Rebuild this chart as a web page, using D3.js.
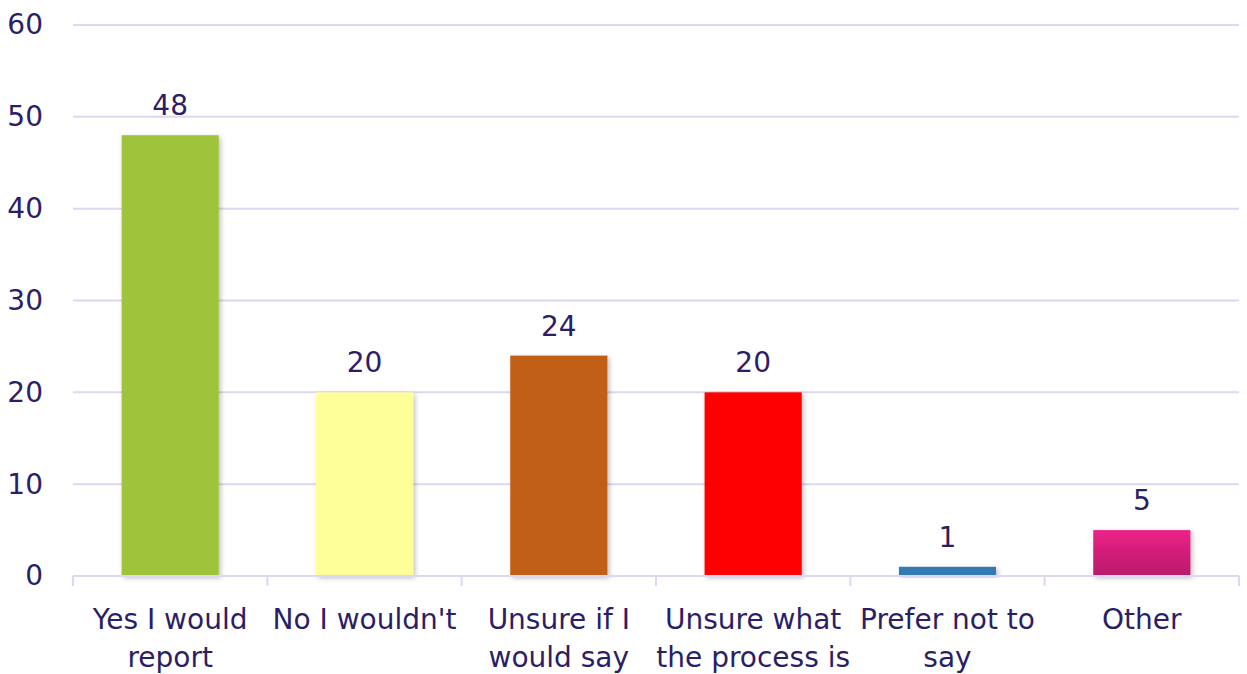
<!DOCTYPE html>
<html>
<head>
<meta charset="utf-8">
<script src="https://cdn.jsdelivr.net/npm/d3@7"></script>
<style>
  html, body { margin: 0; padding: 0; background: #ffffff; }
  svg { display: block; }
</style>
</head>
<body>
<svg id="chart" width="1247" height="674"></svg>
<script>
// Survey responses
const categories = [
  ["Yes I would", "report"],
  ["No I wouldn't"],
  ["Unsure if I", "would say"],
  ["Unsure what", "the process is"],
  ["Prefer not to", "say"],
  ["Other"]
];
const values = [48, 20, 24, 20, 1, 5];
const barColors = ["#9dc43b", "#ffff99", "#c25f16", "#ff0000", "#3579b3", "url(#pinkGrad)"];
const yTicks = [0, 10, 20, 30, 40, 50, 60];

const width = 1247, height = 674;
const margin = { top: 25, right: 8, bottom: 98, left: 73 };
const textColor = "#2c1e66";
const gridColor = "#dcd8f2";
const font = "Tahoma, Verdana, 'DejaVu Sans', sans-serif";

const svg = d3.select("#chart");

const defs = svg.append("defs");
const grad = defs.append("linearGradient")
  .attr("id", "pinkGrad").attr("x1", 0).attr("y1", 0).attr("x2", 0).attr("y2", 1);
grad.append("stop").attr("offset", "0%").attr("stop-color", "#ec2289");
grad.append("stop").attr("offset", "100%").attr("stop-color", "#b81a69");

const shadow = defs.append("filter").attr("id", "barShadow")
  .attr("x", "-10%").attr("y", "-10%").attr("width", "130%").attr("height", "130%");
shadow.append("feDropShadow")
  .attr("dx", 2).attr("dy", 2).attr("stdDeviation", 2.5)
  .attr("flood-color", "#000").attr("flood-opacity", 0.25);

const x = d3.scaleBand()
  .domain(d3.range(categories.length))
  .range([margin.left, width - margin.right])
  .paddingInner(0.5)
  .paddingOuter(0.25);

const y = d3.scaleLinear()
  .domain([0, 60])
  .range([height - margin.bottom, margin.top]);

// Horizontal gridlines
svg.append("g")
  .selectAll("line")
  .data(yTicks.filter(d => d > 0))
  .join("line")
  .attr("x1", margin.left)
  .attr("x2", width - margin.right)
  .attr("y1", d => y(d))
  .attr("y2", d => y(d))
  .attr("stroke", gridColor)
  .attr("stroke-width", 2);

// Y axis labels
const yAxis = svg.append("g")
  .attr("transform", `translate(${margin.left},0)`)
  .call(d3.axisLeft(y).tickValues(yTicks).tickSize(0).tickPadding(30));
yAxis.select(".domain").remove();
yAxis.selectAll("text")
  .attr("fill", textColor)
  .style("font-family", font)
  .style("font-size", "28px");

// Bars
svg.append("g")
  .selectAll("rect")
  .data(values)
  .join("rect")
  .attr("x", (d, i) => x(i))
  .attr("y", d => y(d))
  .attr("width", x.bandwidth())
  .attr("height", d => y(0) - y(d))
  .attr("fill", (d, i) => barColors[i])
  .attr("filter", "url(#barShadow)");

// Value labels
svg.append("g")
  .selectAll("text")
  .data(values)
  .join("text")
  .attr("x", (d, i) => x(i) + x.bandwidth() / 2)
  .attr("y", d => y(d) - 20)
  .attr("text-anchor", "middle")
  .attr("fill", textColor)
  .style("font-family", font)
  .style("font-size", "28px")
  .text(d => d);

// X axis baseline with category boundary ticks
const step = x.step();
const x0 = margin.left;
const baseY = y(0);
const bounds = d3.range(categories.length + 1).map(i => x0 + i * step);
const axisG = svg.append("g");
axisG.append("line")
  .attr("x1", bounds[0]).attr("x2", bounds[bounds.length - 1])
  .attr("y1", baseY).attr("y2", baseY)
  .attr("stroke", gridColor).attr("stroke-width", 2);
axisG.selectAll("line.tick")
  .data(bounds)
  .join("line")
  .attr("class", "tick")
  .attr("x1", d => d).attr("x2", d => d)
  .attr("y1", baseY).attr("y2", baseY + 10)
  .attr("stroke", gridColor).attr("stroke-width", 2);

// Category labels
const labels = svg.append("g")
  .selectAll("text")
  .data(categories)
  .join("text")
  .attr("x", (d, i) => x(i) + x.bandwidth() / 2)
  .attr("y", baseY + 53)
  .attr("text-anchor", "middle")
  .attr("fill", textColor)
  .style("font-family", font)
  .style("font-size", "28px");
labels.selectAll("tspan")
  .data((d, i) => d.map(t => ({ t, cx: x(i) + x.bandwidth() / 2 })))
  .join("tspan")
  .attr("x", d => d.cx)
  .attr("dy", (d, j) => j === 0 ? 0 : 38)
  .text(d => d.t);
</script>
</body>
</html>
